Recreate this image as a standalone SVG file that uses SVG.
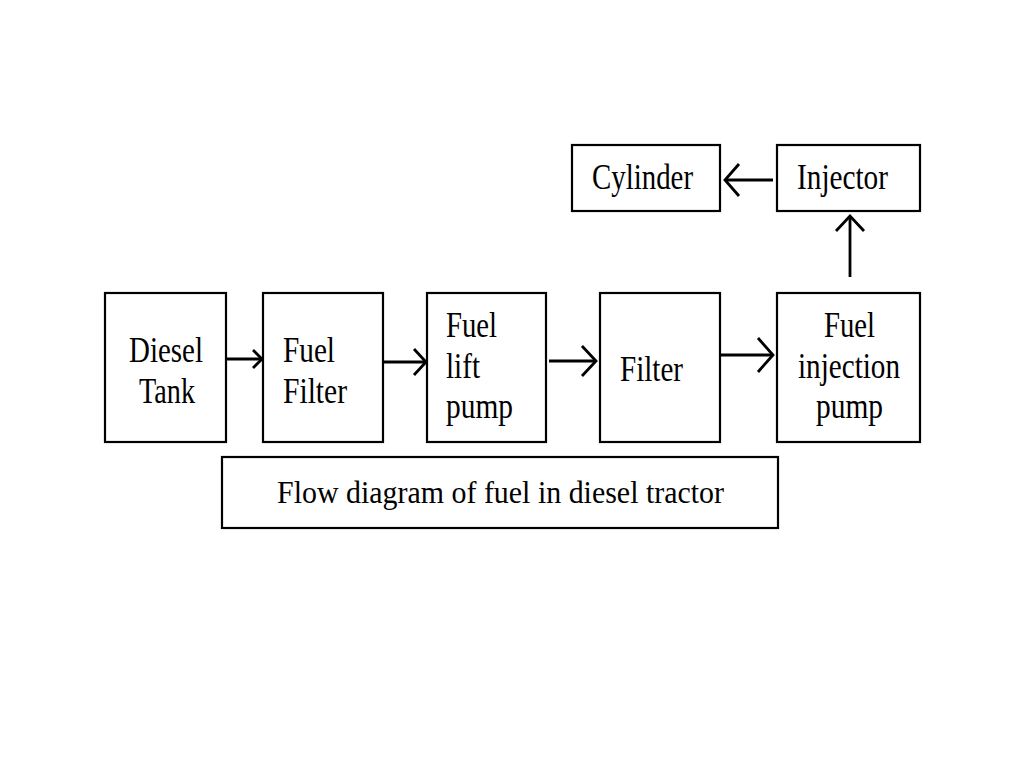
<svg xmlns="http://www.w3.org/2000/svg" width="1024" height="768" viewBox="0 0 1024 768">
<style>
.box{fill:#fff;stroke:#000;stroke-width:2.2}
.t{font-family:"Liberation Serif","Times New Roman",serif;font-size:35px;fill:#000}
.c{font-family:"Liberation Serif","Times New Roman",serif;font-size:32px;fill:#000}
.ln{fill:none;stroke:#000;stroke-width:2.8}
.hd{fill:none;stroke:#000;stroke-width:2.8;stroke-linejoin:miter;stroke-linecap:butt}
</style>
<rect width="1024" height="768" fill="#fff"/>
<g id="diesel-tank">
<rect class="box" x="105" y="293" width="121" height="149"/>
<text class="t" x="129" y="362" textLength="74" lengthAdjust="spacingAndGlyphs">Diesel</text>
<text class="t" x="139" y="403" textLength="56" lengthAdjust="spacingAndGlyphs">Tank</text>
</g>
<g id="fuel-filter">
<rect class="box" x="263" y="293" width="120" height="149"/>
<text class="t" x="283" y="362" textLength="52" lengthAdjust="spacingAndGlyphs">Fuel</text>
<text class="t" x="283" y="403" textLength="64" lengthAdjust="spacingAndGlyphs">Filter</text>
</g>
<g id="fuel-lift-pump">
<rect class="box" x="427" y="293" width="119" height="149"/>
<text class="t" x="446" y="337" textLength="51" lengthAdjust="spacingAndGlyphs">Fuel</text>
<text class="t" x="446" y="378" textLength="34" lengthAdjust="spacingAndGlyphs">lift</text>
<text class="t" x="446" y="418" textLength="67" lengthAdjust="spacingAndGlyphs">pump</text>
</g>
<g id="filter">
<rect class="box" x="600" y="293" width="120" height="149"/>
<text class="t" x="620" y="381" textLength="63" lengthAdjust="spacingAndGlyphs">Filter</text>
</g>
<g id="fuel-injection-pump">
<rect class="box" x="777" y="293" width="143" height="149"/>
<text class="t" x="824" y="337" textLength="51" lengthAdjust="spacingAndGlyphs">Fuel</text>
<text class="t" x="798" y="378" textLength="102" lengthAdjust="spacingAndGlyphs">injection</text>
<text class="t" x="816" y="418" textLength="67" lengthAdjust="spacingAndGlyphs">pump</text>
</g>
<g id="cylinder">
<rect class="box" x="572" y="145" width="148" height="66"/>
<text class="t" x="592" y="189" textLength="101" lengthAdjust="spacingAndGlyphs">Cylinder</text>
</g>
<g id="injector">
<rect class="box" x="777" y="145" width="143" height="66"/>
<text class="t" x="797" y="189" textLength="91" lengthAdjust="spacingAndGlyphs">Injector</text>
</g>
<g id="caption">
<rect class="box" x="222" y="457" width="556" height="71"/>
<text class="c" x="277" y="503" textLength="447" lengthAdjust="spacingAndGlyphs">Flow diagram of fuel in diesel tractor</text>
</g>
<g id="connectors">
<line class="ln" x1="226" y1="359" x2="262" y2="359"/>
<path class="hd" d="M253,350 L262,359 L253,368"/>
<line class="ln" x1="383" y1="362" x2="426" y2="362"/>
<path class="hd" d="M414,349 L426,362 L414,375"/>
<line class="ln" x1="549" y1="361" x2="596" y2="361"/>
<path class="hd" d="M582,346 L596,361 L582,376"/>
<line class="ln" x1="720" y1="355" x2="773" y2="355"/>
<path class="hd" d="M758,338 L773,355 L758,372"/>
<line class="ln" x1="850" y1="277" x2="850" y2="216"/>
<path class="hd" d="M836,231 L850,216 L864,231"/>
<line class="ln" x1="773" y1="180" x2="725" y2="180"/>
<path class="hd" d="M739,164 L725,180 L739,196"/>
</g>
</svg>
